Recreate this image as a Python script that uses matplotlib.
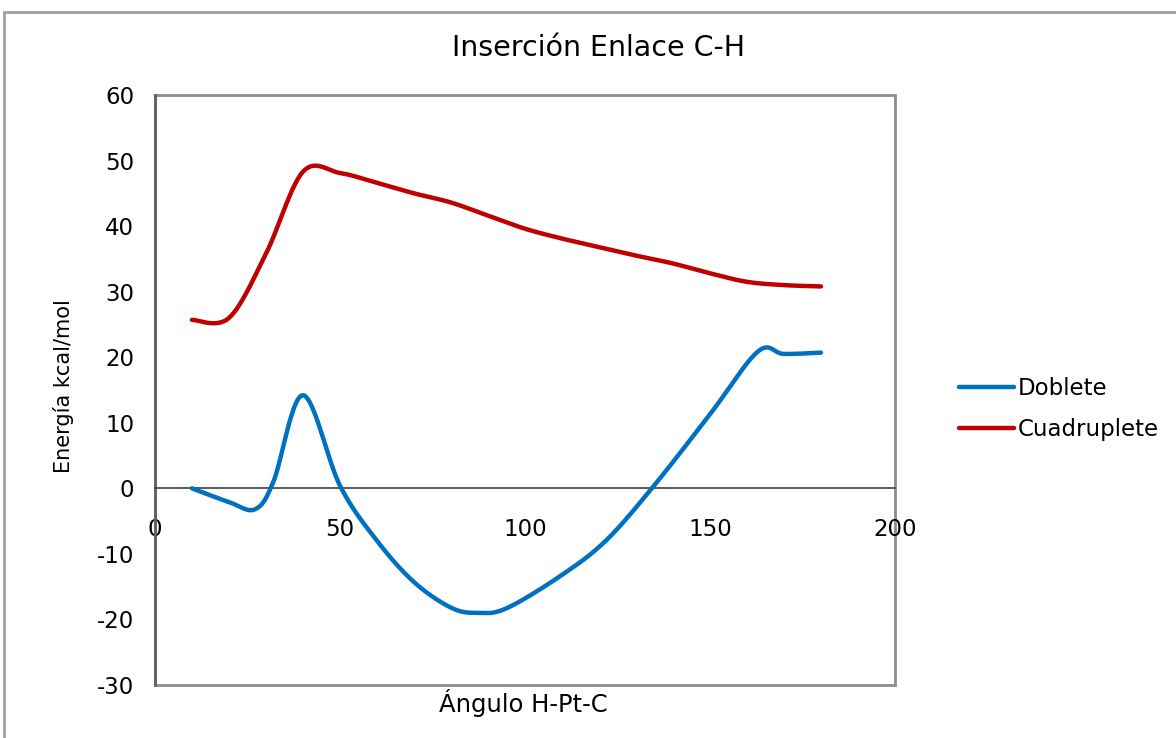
import numpy as np
import matplotlib
matplotlib.use('Agg')
import matplotlib.pyplot as plt
from matplotlib.patches import Rectangle

plt.rcParams['font.family'] = ['DejaVu Sans']
plt.rcParams['axes.unicode_minus'] = False

# values
doblete_x = [10, 20, 27, 32, 40, 50, 60, 70, 80, 87, 95, 110, 122, 135, 150, 163, 170, 180]
doblete_y = [0, -2.1, -3.2, 1, 14.2, 0.4, -8, -14.3, -18.2, -19.0, -18.3, -13.2, -7.9, 0.5, 11.3, 20.9, 20.5, 20.7]
cuad_x = [10, 20, 30, 40, 50, 60, 70, 80, 90, 100, 110, 120, 130, 140, 150, 160, 170, 180]
cuad_y = [25.7, 26.0, 35.8, 48.3, 48.1, 46.6, 45.0, 43.6, 41.6, 39.6, 38.1, 36.8, 35.5, 34.3, 32.8, 31.5, 31.0, 30.8]
series_names = ['Doblete', 'Cuadruplete']
series_colors = ['#0070C0', '#C00000']


def smooth(xs, ys, n=30):
    """Excel-like smoothed line: bezier segments with catmull-rom control points."""
    p = np.column_stack([xs, ys]).astype(float)
    p = np.vstack([p[0], p, p[-1]])
    out = []
    t = np.linspace(0, 1, n)[:, None]
    for i in range(1, len(p) - 2):
        p0, p1, p2, p3 = p[i - 1], p[i], p[i + 1], p[i + 2]
        c1 = p1 + (p2 - p0) / 6
        c2 = p2 - (p3 - p1) / 6
        seg = ((1 - t) ** 3) * p1 + 3 * ((1 - t) ** 2) * t * c1 + 3 * (1 - t) * t ** 2 * c2 + t ** 3 * p2
        out.append(seg if i == 1 else seg[1:])
    out = np.vstack(out)
    return out[:, 0], out[:, 1]


W, H = 1176, 738
fig = plt.figure(figsize=(W / 100, H / 100), dpi=100)
ax = fig.add_axes([155 / W, 1 - 685 / H, 740 / W, 590 / H])

for (xs, ys), name, col in zip([(doblete_x, doblete_y), (cuad_x, cuad_y)], series_names, series_colors):
    sx, sy = smooth(xs, ys)
    ax.plot(sx, sy, color=col, lw=3.2, label=name, solid_capstyle='round', zorder=3)

ax.set_xlim(0, 200); ax.set_ylim(-30, 60)
ax.set_xticks(range(0, 201, 50)); ax.set_yticks(range(-30, 61, 10))

# plot-area frame in gray, axis lines dark
ax.add_patch(Rectangle((0, 0), 1, 1, transform=ax.transAxes, fill=False,
                       edgecolor='#8c8c8c', lw=2, zorder=1, clip_on=False))
for s in ['top', 'right']:
    ax.spines[s].set_visible(False)
ax.spines['bottom'].set_position(('data', 0))
ax.spines['bottom'].set_color('#404040'); ax.spines['bottom'].set_linewidth(1.2)
ax.spines['left'].set_color('#606060'); ax.spines['left'].set_linewidth(2)
ax.tick_params(axis='x', length=0, pad=21, labelsize=16.5)
ax.tick_params(axis='y', length=0, pad=15, labelsize=16.5)

fig.text(598 / W, 1 - 48 / H, 'Inserción Enlace C-H', ha='center', va='center', fontsize=20.5)
fig.text(523 / W, 1 - 703 / H, 'Ángulo H-Pt-C', ha='center', va='center', fontsize=17.5)
fig.text(64 / W, 1 - 386 / H, 'Energía kcal/mol', ha='center', va='center', rotation=90, fontsize=15)

ax.legend(loc='center left', bbox_to_anchor=(938 / W, 1 - 409 / H), bbox_transform=fig.transFigure,
          frameon=False, fontsize=16.5, handlelength=2.4, handletextpad=0.2, labelspacing=0.75)

# outer chart border
fig.patches.append(Rectangle((4 / W, -0.05), 1.1, 1 - 12 / H + 0.05, transform=fig.transFigure,
                             fill=False, edgecolor='#a0a0a0', lw=2))

fig.savefig('out.png', dpi=100)
